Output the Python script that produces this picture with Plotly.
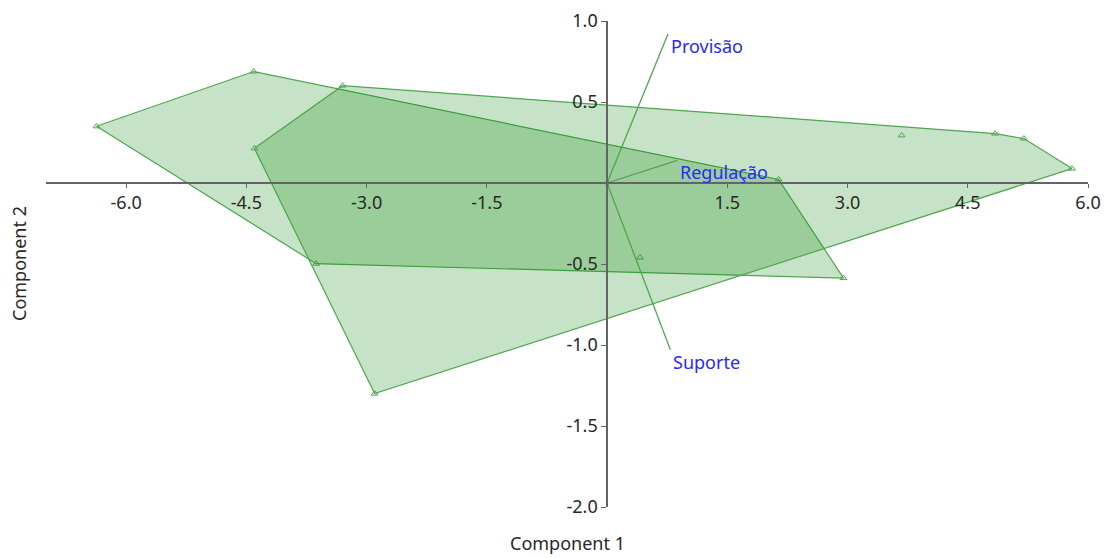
import plotly.graph_objects as go

# PCA scores (Component 1, Component 2) for the two groups
group_a_x = [-6.37, -4.41, 2.14, 2.95, -3.63, 0.41]
group_a_y = [0.350, 0.688, 0.022, -0.587, -0.498, -0.460]

group_b_x = [-3.30, -4.40, -2.90, 5.80, 5.20, 4.84, 3.675]
group_b_y = [0.601, 0.214, -1.300, 0.089, 0.274, 0.305, 0.294]

# Loadings (biplot vectors)
var_names = ["Provisão", "Regulação", "Suporte"]
var_x = [0.76, 0.875, 0.79]
var_y = [0.92, 0.14, -1.03]

x_ticks = [-6.0, -4.5, -3.0, -1.5, 1.5, 3.0, 4.5, 6.0]
y_ticks = [1.0, 0.5, -0.5, -1.0, -1.5, -2.0]
x_range = [-7.0, 6.0]
y_range = [-2.0, 1.0]

GREEN_LINE = "rgb(78,166,78)"
GREEN_FILL = "rgba(0,128,0,0.22)"
LABEL_BLUE = "rgb(40,40,255)"
TEXT_COLOR = "rgb(40,40,40)"
FONT = "Noto Sans"


def convex_hull(xs, ys):
    pts = sorted(set(zip(xs, ys)))

    def cross(o, a, b):
        return (a[0] - o[0]) * (b[1] - o[1]) - (a[1] - o[1]) * (b[0] - o[0])

    lower, upper = [], []
    for p in pts:
        while len(lower) >= 2 and cross(lower[-2], lower[-1], p) <= 0:
            lower.pop()
        lower.append(p)
    for p in reversed(pts):
        while len(upper) >= 2 and cross(upper[-2], upper[-1], p) <= 0:
            upper.pop()
        upper.append(p)
    hull = lower[:-1] + upper[:-1]
    hull.append(hull[0])
    return [p[0] for p in hull], [p[1] for p in hull]


fig = go.Figure()

for gx, gy in [(group_a_x, group_a_y), (group_b_x, group_b_y)]:
    hx, hy = convex_hull(gx, gy)
    fig.add_trace(go.Scatter(
        x=hx, y=hy, mode="lines", fill="toself", fillcolor=GREEN_FILL,
        line=dict(color=GREEN_LINE, width=1.2), hoverinfo="skip",
        showlegend=False))
    fig.add_trace(go.Scatter(
        x=gx, y=gy, mode="markers",
        marker=dict(symbol="triangle-up-open", size=6,
                    color=GREEN_LINE, line=dict(width=1)),
        showlegend=False))

# Biplot vectors from the origin
for name, vx, vy in zip(var_names, var_x, var_y):
    fig.add_trace(go.Scatter(
        x=[0, vx], y=[0, vy], mode="lines",
        line=dict(color=GREEN_LINE, width=1.3), showlegend=False))
    fig.add_annotation(
        x=vx, y=vy, text=name, showarrow=False, xanchor="left",
        yanchor="middle", xshift=1, yshift=-12,
        font=dict(family=FONT, size=18, color=LABEL_BLUE))

fig.add_trace(go.Scatter(
    x=[0], y=[0], mode="markers",
    marker=dict(size=4, color="rgb(20,90,20)"), showlegend=False))

x_pos = (0 - y_range[0]) / (y_range[1] - y_range[0])
y_pos = (0 - x_range[0]) / (x_range[1] - x_range[0])

axis_common = dict(
    showgrid=False, zeroline=False, showline=True,
    linecolor="rgb(100,100,100)", linewidth=1.5,
    ticks="outside", tickcolor="rgb(100,100,100)", tickwidth=1,
    tickfont=dict(family=FONT, size=18, color=TEXT_COLOR),
    anchor="free", automargin=False,
)

fig.update_layout(
    width=1107, height=558,
    margin=dict(l=46, r=19, t=21, b=51, autoexpand=False),
    paper_bgcolor="white", plot_bgcolor="white",
    xaxis=dict(range=x_range, tickvals=x_ticks,
               ticktext=[f"{v:.1f}" for v in x_ticks],
               position=x_pos, ticklen=4, **axis_common),
    yaxis=dict(range=y_range, tickvals=y_ticks,
               ticktext=[f"{v:.1f}" for v in y_ticks],
               position=y_pos, ticklen=5, **axis_common),
    annotations=list(fig.layout.annotations) + [
        dict(text="Component 1", xref="paper", yref="paper", x=0.5, y=0,
             yshift=-36, showarrow=False, yanchor="middle",
             font=dict(family=FONT, size=18, color=TEXT_COLOR)),
        dict(text="Component 2", xref="paper", yref="paper", x=0, y=0.5,
             xshift=-27, showarrow=False, textangle=-90, xanchor="center",
             font=dict(family=FONT, size=18, color=TEXT_COLOR)),
    ],
)

fig.write_html("out.html")
